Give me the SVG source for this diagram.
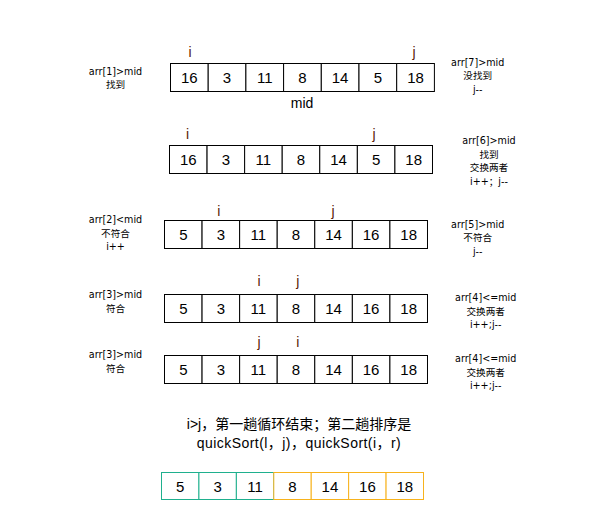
<svg xmlns="http://www.w3.org/2000/svg" width="601" height="525" viewBox="0 0 601 525">
<style>
.c{fill:#fff;stroke:#000;stroke-width:1}
.t{stroke:#1fb08e}
.o{stroke:#f7b21c}
.n{font-family:"Liberation Sans","Noto Sans CJK SC",sans-serif;font-size:15px;fill:#000;text-anchor:middle}
.p{font-family:"Liberation Sans",sans-serif;font-size:14px;fill:#5a1a05;text-anchor:middle}
.l{font-family:"DejaVu Sans","Noto Sans CJK SC",sans-serif;font-size:9.6px;fill:#000;text-anchor:middle}
.b{font-family:"Liberation Sans","Noto Sans CJK SC",sans-serif;font-size:14px;fill:#000;text-anchor:middle}
</style>
<rect width="601" height="525" fill="#fff"/>

<g id="row1">
<rect class="c" x="170.5" y="63.5" width="37.7" height="28"/>
<rect class="c" x="208.2" y="63.5" width="37.7" height="28"/>
<rect class="c" x="245.9" y="63.5" width="37.7" height="28"/>
<rect class="c" x="283.6" y="63.5" width="37.7" height="28"/>
<rect class="c" x="321.3" y="63.5" width="37.7" height="28"/>
<rect class="c" x="359" y="63.5" width="37.7" height="28"/>
<rect class="c" x="396.7" y="63.5" width="37.7" height="28"/>
<text class="n" x="189.3" y="82.5">16</text>
<text class="n" x="227" y="82.5">3</text>
<text class="n" x="264.7" y="82.5">11</text>
<text class="n" x="302.4" y="82.5">8</text>
<text class="n" x="340.1" y="82.5">14</text>
<text class="n" x="377.8" y="82.5">5</text>
<text class="n" x="415.5" y="82.5">18</text>
<text class="p" x="190" y="57">i</text>
<text class="p" x="414" y="57">j</text>
<text class="b" x="302" y="108">mid</text>
<text class="l" x="115.5" y="75">arr[1]&gt;mid</text>
<text class="l" x="115.5" y="88">找到</text>
<text class="l" x="477.7" y="65.5">arr[7]&gt;mid</text>
<text class="l" x="477.7" y="79">没找到</text>
<text class="l" x="477.7" y="92.5">j--</text>
</g>

<g id="row2">
<rect class="c" x="169.5" y="145.5" width="37.57" height="28"/>
<rect class="c" x="207.07" y="145.5" width="37.57" height="28"/>
<rect class="c" x="244.64" y="145.5" width="37.57" height="28"/>
<rect class="c" x="282.21" y="145.5" width="37.57" height="28"/>
<rect class="c" x="319.78" y="145.5" width="37.57" height="28"/>
<rect class="c" x="357.35" y="145.5" width="37.57" height="28"/>
<rect class="c" x="394.92" y="145.5" width="37.57" height="28"/>
<text class="n" x="188.3" y="165">16</text>
<text class="n" x="225.9" y="165">3</text>
<text class="n" x="263.4" y="165">11</text>
<text class="n" x="301" y="165">8</text>
<text class="n" x="338.6" y="165">14</text>
<text class="n" x="376.1" y="165">5</text>
<text class="n" x="413.7" y="165">18</text>
<text class="p" x="187.5" y="139">i</text>
<text class="p" x="374" y="139">j</text>
<text class="l" x="489" y="144">arr[6]&gt;mid</text>
<text class="l" x="489" y="157.5">找到</text>
<text class="l" x="489" y="171">交换两者</text>
<text class="l" x="489" y="184.5">i++；j--</text>
</g>

<g id="row3">
<rect class="c" x="164.5" y="220.5" width="37.57" height="28"/>
<rect class="c" x="202.07" y="220.5" width="37.57" height="28"/>
<rect class="c" x="239.64" y="220.5" width="37.57" height="28"/>
<rect class="c" x="277.21" y="220.5" width="37.57" height="28"/>
<rect class="c" x="314.78" y="220.5" width="37.57" height="28"/>
<rect class="c" x="352.35" y="220.5" width="37.57" height="28"/>
<rect class="c" x="389.92" y="220.5" width="37.57" height="28"/>
<text class="n" x="183.3" y="240">5</text>
<text class="n" x="220.9" y="240">3</text>
<text class="n" x="258.4" y="240">11</text>
<text class="n" x="296" y="240">8</text>
<text class="n" x="333.6" y="240">14</text>
<text class="n" x="371.1" y="240">16</text>
<text class="n" x="408.7" y="240">18</text>
<text class="p" x="218.7" y="215.5">i</text>
<text class="p" x="333" y="215.5">j</text>
<text class="l" x="115.5" y="223">arr[2]&lt;mid</text>
<text class="l" x="115.5" y="236.5">不符合</text>
<text class="l" x="115.5" y="250">i++</text>
<text class="l" x="477.7" y="227.5">arr[5]&gt;mid</text>
<text class="l" x="477.7" y="241">不符合</text>
<text class="l" x="477.7" y="254.5">j--</text>
</g>

<g id="row4">
<rect class="c" x="164.5" y="294.5" width="37.57" height="28"/>
<rect class="c" x="202.07" y="294.5" width="37.57" height="28"/>
<rect class="c" x="239.64" y="294.5" width="37.57" height="28"/>
<rect class="c" x="277.21" y="294.5" width="37.57" height="28"/>
<rect class="c" x="314.78" y="294.5" width="37.57" height="28"/>
<rect class="c" x="352.35" y="294.5" width="37.57" height="28"/>
<rect class="c" x="389.92" y="294.5" width="37.57" height="28"/>
<text class="n" x="183.3" y="314">5</text>
<text class="n" x="220.9" y="314">3</text>
<text class="n" x="258.4" y="314">11</text>
<text class="n" x="296" y="314">8</text>
<text class="n" x="333.6" y="314">14</text>
<text class="n" x="371.1" y="314">16</text>
<text class="n" x="408.7" y="314">18</text>
<text class="p" x="259" y="286">i</text>
<text class="p" x="297.7" y="286">j</text>
<text class="l" x="115.5" y="298">arr[3]&gt;mid</text>
<text class="l" x="115.5" y="311.5">符合</text>
<text class="l" x="485.7" y="301">arr[4]&lt;=mid</text>
<text class="l" x="485.7" y="314.5">交换两者</text>
<text class="l" x="485.7" y="328">i++;j--</text>
</g>

<g id="row5">
<rect class="c" x="164.5" y="355.5" width="37.57" height="28"/>
<rect class="c" x="202.07" y="355.5" width="37.57" height="28"/>
<rect class="c" x="239.64" y="355.5" width="37.57" height="28"/>
<rect class="c" x="277.21" y="355.5" width="37.57" height="28"/>
<rect class="c" x="314.78" y="355.5" width="37.57" height="28"/>
<rect class="c" x="352.35" y="355.5" width="37.57" height="28"/>
<rect class="c" x="389.92" y="355.5" width="37.57" height="28"/>
<text class="n" x="183.3" y="375">5</text>
<text class="n" x="220.9" y="375">3</text>
<text class="n" x="258.4" y="375">11</text>
<text class="n" x="296" y="375">8</text>
<text class="n" x="333.6" y="375">14</text>
<text class="n" x="371.1" y="375">16</text>
<text class="n" x="408.7" y="375">18</text>
<text class="p" x="259" y="347">j</text>
<text class="p" x="297.7" y="347">i</text>
<text class="l" x="115.5" y="358">arr[3]&gt;mid</text>
<text class="l" x="115.5" y="371.5">符合</text>
<text class="l" x="485.7" y="362">arr[4]&lt;=mid</text>
<text class="l" x="485.7" y="375.5">交换两者</text>
<text class="l" x="485.7" y="389">i++;j--</text>
</g>

<g id="summary">
<text class="b" x="299" y="429">i&gt;j，第一趟循环结束；第二趟排序是</text>
<text class="b" x="299" y="448" letter-spacing="0.45">quickSort(l，j)，quickSort(i，r)</text>
</g>

<g id="row6">
<rect class="c t" x="161.5" y="472.5" width="37.43" height="27"/>
<rect class="c t" x="198.93" y="472.5" width="37.43" height="27"/>
<rect class="c t" x="236.36" y="472.5" width="37.43" height="27"/>
<rect class="c o" x="273.79" y="472.5" width="37.43" height="27"/>
<rect class="c o" x="311.22" y="472.5" width="37.43" height="27"/>
<rect class="c o" x="348.65" y="472.5" width="37.43" height="27"/>
<rect class="c o" x="386.08" y="472.5" width="37.43" height="27"/>
<text class="n" x="180.2" y="491.5">5</text>
<text class="n" x="217.6" y="491.5">3</text>
<text class="n" x="255.1" y="491.5">11</text>
<text class="n" x="292.5" y="491.5">8</text>
<text class="n" x="329.9" y="491.5">14</text>
<text class="n" x="367.4" y="491.5">16</text>
<text class="n" x="404.8" y="491.5">18</text>
</g>
</svg>
